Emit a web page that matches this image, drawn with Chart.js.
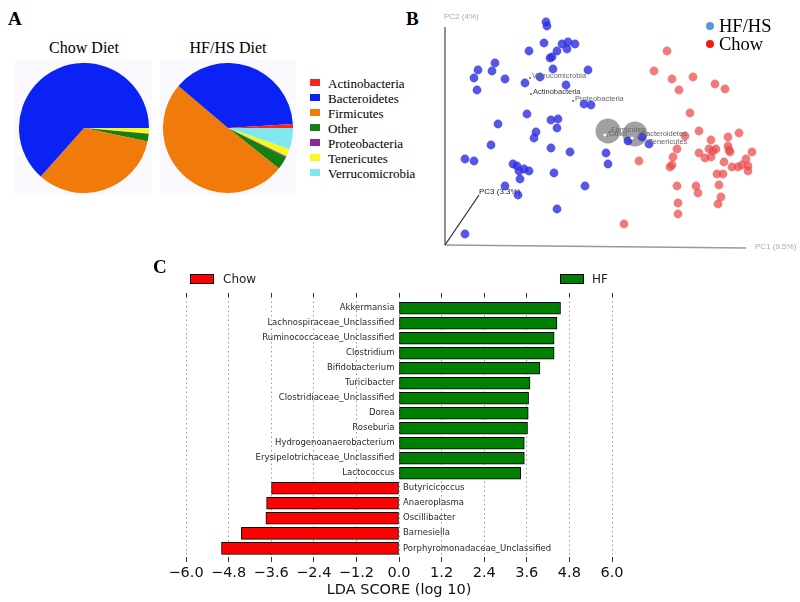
<!DOCTYPE html>
<html>
<head>
<meta charset="utf-8">
<script src="https://cdn.jsdelivr.net/npm/chart.js@4.4.1/dist/chart.umd.min.js"></script>
<style>
  body { margin:0; width:800px; height:602px; background:#fff; position:relative; overflow:hidden; font-family:"Liberation Serif", serif; }
  canvas { position:absolute; }
  .pieBg { position:absolute; background:#f8f8fd; }
  .sw { position:absolute; }
  .txt { position:absolute; white-space:nowrap; line-height:1; z-index:5; }
</style>
</head>
<body>
<div class="pieBg" style="left:15px;top:60px;width:137px;height:135px"></div>
<div class="pieBg" style="left:160px;top:60px;width:136px;height:135px"></div>
<canvas id="pieChow" width="130" height="130" style="left:19px;top:63px"></canvas>
<canvas id="pieHF" width="130" height="130" style="left:163px;top:63px"></canvas>
<canvas id="pcoa" width="360" height="260" style="left:440px;top:0px"></canvas>
<canvas id="lda" width="460" height="342" style="left:170px;top:260px"></canvas>
<script>
// ---- data ----
// panel A: relative abundance (%) per phylum
const phyla = ['Actinobacteria', 'Bacteroidetes', 'Firmicutes', 'Other', 'Proteobacteria', 'Tenericutes', 'Verrucomicrobia'];
const phylumColors = ['#f22a1e', '#0b22f5', '#f07a0a', '#15800f', '#8a2a9a', '#f8f820', '#80e6f0'];
const chowShare = [0, 63.4, 33.3, 1.9, 0, 1.4, 0];
const hfShare = [1.0, 37.8, 50.5, 3.2, 0.3, 1.9, 5.3];

// panel B: PCoA projection (PC1, PC2), axis origin = 0,0
const hfPoints = [[101,223],[102,219],[99,202],[117,201],[123,203],[130,201],[112,194],[122,196],[84,194],[105,187],
  [107,188],[50,182],[33,175],[47,174],[29,167],[60,166],[108,176],[143,175],[95,168],[80,162],
  [121,160],[32,155],[139,141],[146,140],[82,131],[53,121],[106,125],[113,126],[112,117],[91,113],
  [89,107],[46,100],[106,97],[125,93],[161,92],[20,86],[29,84],[68,81],[72,79],[74,74],
  [79,76],[84,74],[163,81],[109,72],[75,66],[60,59],[73,50],[140,59],[112,36],[20,11],
  [183,104],[197,108],[204,101]];
const chowPoints = [[222,194],[209,174],[227,166],[248,168],[234,155],[270,161],[280,156],[245,132],[254,114],[240,109],
  [294,112],[266,105],[283,108],[232,96],[254,92],[264,96],[268,94],[271,96],[283,99],[284,95],
  [285,93],[307,93],[228,88],[260,87],[266,88],[301,86],[194,84],[227,80],[225,78],[279,83],
  [287,78],[293,78],[297,80],[303,79],[303,74],[272,71],[278,71],[232,59],[251,59],[274,60],
  [253,52],[276,48],[273,41],[233,42],[233,31],[179,21]];
const biplotTaxa = ['Verrucomicrobia', 'Actinobacteria', 'Proteobacteria', 'Firmicutes', 'Other', 'Bacteroidetes', 'Tenericutes'];
const biplotTips = [[85,169],[86,153],[128,146],[164,115],[162,111],[194,111],[202,103]];
const biplotSpheres = [[163,114],[190,111]];
const pcNames = ['PC1 (9.5%)', 'PC2 (4%)', 'PC3 (3.3%)'];
const pcEnds = [[301,-3],[0,218],[34,50]];

// panel C: LDA scores
const hfTaxa = ['Akkermansia', 'Lachnospiraceae_Unclassified', 'Ruminococcaceae_Unclassified', 'Clostridium',
  'Bifidobacterium', 'Turicibacter', 'Clostridiaceae_Unclassified', 'Dorea', 'Roseburia',
  'Hydrogenoanaerobacterium', 'Erysipelotrichaceae_Unclassified', 'Lactococcus'];
const hfScores = [4.55, 4.45, 4.37, 4.37, 3.97, 3.69, 3.65, 3.64, 3.62, 3.53, 3.53, 3.43];
const chowTaxa = ['Butyricicoccus', 'Anaeroplasma', 'Oscillibacter', 'Barnesiella', 'Porphyromonadaceae_Unclassified'];
const chowScores = [-3.59, -3.73, -3.75, -4.44, -5.0];
const ldaTicks = [-6, -4.8, -3.6, -2.4, -1.2, 0, 1.2, 2.4, 3.6, 4.8, 6];

// ---- text helpers ----
function text(str, x, y, css, shift) {
  const d = document.createElement('div');
  d.className = 'txt';
  d.textContent = str;
  d.style.left = x + 'px';
  d.style.top = y + 'px';
  d.style.transform = 'translate(' + (shift || 0) + '%,-50%)';
  d.style.cssText += css || '';
  document.body.appendChild(d);
}
function swatch(x, y, w, h, css) {
  const d = document.createElement('div');
  d.className = 'sw';
  d.style.cssText = 'left:' + x + 'px;top:' + y + 'px;width:' + w + 'px;height:' + h + 'px;' + css;
  document.body.appendChild(d);
}

// panel letters
text('A', 8, 18, 'font-size:19px;font-weight:bold;');
text('B', 406, 18, 'font-size:19px;font-weight:bold;');
text('C', 153, 266, 'font-size:19px;font-weight:bold;');

// ---- panel A ----
text('Chow Diet', 84, 48, 'font-size:16px;', -50);
text('HF/HS Diet', 228, 48, 'font-size:16px;', -50);
phyla.forEach((p, i) => {
  swatch(310, 79 + i * 15, 10, 7, 'background:' + phylumColors[i]);
  text(p, 328, 83 + i * 15, 'font-size:13px;');
});

function makePie(id, values) {
  // matplotlib-style: counter-clockwise from 3 o'clock, so feed Chart.js reversed order
  new Chart(document.getElementById(id), {
    type: 'pie',
    data: {
      labels: phyla.slice().reverse(),
      datasets: [{ data: values.slice().reverse(), backgroundColor: phylumColors.slice().reverse(), borderWidth: 0 }]
    },
    options: {
      responsive: false, animation: false, events: [], rotation: 90,
      layout: { padding: 0, autoPadding: false },
      plugins: { legend: { display: false }, tooltip: { enabled: false } }
    }
  });
}
makePie('pieChow', chowShare);
makePie('pieHF', hfShare);

// ---- panel B ----
text('HF/HS', 719, 26, 'font-size:18.5px;');
text('Chow', 719, 44, 'font-size:18.5px;');
swatch(706, 22, 8, 8, 'border-radius:50%;background:#5a96dc');
swatch(706, 40, 8, 8, 'border-radius:50%;background:#f21c10');

const pcoaDecor = {
  id: 'pcoaDecor',
  beforeDatasetsDraw(chart) {
    const { ctx, scales: { x, y } } = chart;
    const ox = x.getPixelForValue(0), oy = y.getPixelForValue(0);
    const axisColors = ['#999', '#555', '#333'];
    ctx.save();
    pcEnds.forEach((e, i) => {
      ctx.strokeStyle = axisColors[i];
      ctx.lineWidth = 1.3;
      ctx.beginPath();
      ctx.moveTo(ox, oy);
      ctx.lineTo(x.getPixelForValue(e[0]), y.getPixelForValue(e[1]));
      ctx.stroke();
    });
    ctx.font = '8px "Liberation Sans"';
    ctx.textBaseline = 'middle';
    ctx.fillStyle = '#aaa';
    ctx.fillText(pcNames[0], x.getPixelForValue(pcEnds[0][0]) + 9, y.getPixelForValue(pcEnds[0][1]) - 1);
    ctx.fillText(pcNames[1], x.getPixelForValue(pcEnds[1][0]) - 1, y.getPixelForValue(pcEnds[1][1]) - 10);
    ctx.fillStyle = '#222';
    ctx.fillText(pcNames[2], x.getPixelForValue(pcEnds[2][0]), y.getPixelForValue(pcEnds[2][1]) - 3);
    ctx.restore();
  },
  afterDatasetsDraw(chart) {
    const { ctx, scales: { x, y } } = chart;
    ctx.save();
    ctx.font = '7.5px "Liberation Sans"';
    ctx.textBaseline = 'middle';
    biplotTaxa.forEach((t, i) => {
      const px = x.getPixelForValue(biplotTips[i][0]), py = y.getPixelForValue(biplotTips[i][1]);
      ctx.fillStyle = i === 1 ? '#333' : '#666';
      ctx.fillText(t, px + 2, py);
      ctx.fillStyle = '#777';
      ctx.beginPath(); ctx.arc(px, py + 2, 1.1, 0, Math.PI * 2); ctx.fill();
    });
    ctx.fillStyle = '#fff';
    biplotSpheres.forEach(s => {
      ctx.beginPath();
      ctx.arc(x.getPixelForValue(s[0]) - 3, y.getPixelForValue(s[1]) + 4, 1.6, 0, Math.PI * 2);
      ctx.fill();
    });
    ctx.restore();
  }
};

const toXY = arr => arr.map(p => ({ x: p[0], y: p[1] }));
new Chart(document.getElementById('pcoa'), {
  type: 'scatter',
  data: {
    datasets: [
      { label: 'HF/HS', data: toXY(hfPoints), pointRadius: 4.4, backgroundColor: 'rgba(45,45,225,0.8)', borderWidth: 0, order: 1 },
      { label: 'Chow', data: toXY(chowPoints), pointRadius: 4.4, backgroundColor: 'rgba(236,72,72,0.72)', borderWidth: 0, order: 2 },
      { label: 'biplot', data: toXY(biplotSpheres), pointRadius: 12.5, backgroundColor: 'rgba(125,125,125,0.72)', borderWidth: 0, order: 3 }
    ]
  },
  options: {
    responsive: false, animation: false, events: [],
    layout: { padding: 0, autoPadding: false },
    scales: {
      x: { type: 'linear', display: false, min: -5, max: 355 },
      y: { type: 'linear', display: false, min: -15, max: 245 }
    },
    plugins: { legend: { display: false }, tooltip: { enabled: false } }
  },
  plugins: [pcoaDecor]
});

// ---- panel C ----
swatch(190, 274, 22, 8, 'background:#f00;border:1px solid #000');
text('Chow', 223, 279, 'font-family:"DejaVu Sans";font-size:12px;color:#222;');
swatch(560, 274, 22, 8, 'background:#008000;border:1px solid #000');
text('HF', 592, 279, 'font-family:"DejaVu Sans";font-size:12px;color:#222;');

const barLabels = {
  id: 'barLabels',
  afterDatasetsDraw(chart) {
    const { ctx, scales: { x, y } } = chart;
    const zero = x.getPixelForValue(0);
    ctx.save();
    ctx.font = '8.5px "DejaVu Sans"';
    ctx.fillStyle = '#2a2a2a';
    ctx.textBaseline = 'middle';
    ctx.textAlign = 'right';
    hfTaxa.forEach((t, i) => ctx.fillText(t, zero - 4.5, y.getPixelForValue(i)));
    ctx.textAlign = 'left';
    chowTaxa.forEach((t, i) => ctx.fillText(t, zero + 4, y.getPixelForValue(hfTaxa.length + i)));
    ctx.restore();
  }
};

const fmtTick = v => (Math.abs(v) < 1e-9 ? 0 : v).toFixed(1).replace('-', '\u2212');
const setTicks = s => { s.ticks = ldaTicks.map(v => ({ value: v })); };
const fixHeight = h => s => { s.height = h; s.paddingLeft = 0; s.paddingRight = 0; };

new Chart(document.getElementById('lda'), {
  type: 'bar',
  data: {
    datasets: [
      { label: 'HF', data: hfScores.map((v, i) => ({ x: v, y: i })), backgroundColor: '#008000' },
      { label: 'Chow', data: chowScores.map((v, i) => ({ x: v, y: hfTaxa.length + i })), backgroundColor: '#ff0000' }
    ]
  },
  options: {
    indexAxis: 'y',
    responsive: false, animation: false, events: [],
    layout: { padding: { left: 16, right: 18, top: 33, bottom: 0 }, autoPadding: false },
    datasets: { bar: { grouped: false, barThickness: 12, borderColor: '#000', borderWidth: 1, borderSkipped: false } },
    scales: {
      y: { type: 'linear', display: false, reverse: true, offset: false, min: -0.75, max: 16.58 },
      x: {
        type: 'linear', position: 'bottom', min: -6, max: 6,
        afterBuildTicks: setTicks,
        afterFit: fixHeight(45),
        grid: { color: '#999', tickLength: 5, tickColor: '#333', tickBorderDash: [] },
        border: { display: false, dash: [1.5, 3] },
        ticks: { autoSkip: false, maxRotation: 0, padding: 3, color: '#111', font: { family: 'DejaVu Sans', size: 14.5 }, callback: fmtTick },
        title: { display: true, text: 'LDA SCORE (log 10)', color: '#111', font: { family: 'DejaVu Sans', size: 14.5 }, padding: { top: 0, bottom: 3 } }
      },
      x2: {
        type: 'linear', position: 'top', min: -6, max: 6,
        afterBuildTicks: setTicks,
        afterFit: fixHeight(4),
        grid: { drawOnChartArea: false, tickLength: 4, tickColor: '#333', tickBorderDash: [] },
        border: { display: false },
        ticks: { display: false }
      }
    },
    plugins: { legend: { display: false }, tooltip: { enabled: false } }
  },
  plugins: [barLabels]
});
</script>
</body>
</html>
